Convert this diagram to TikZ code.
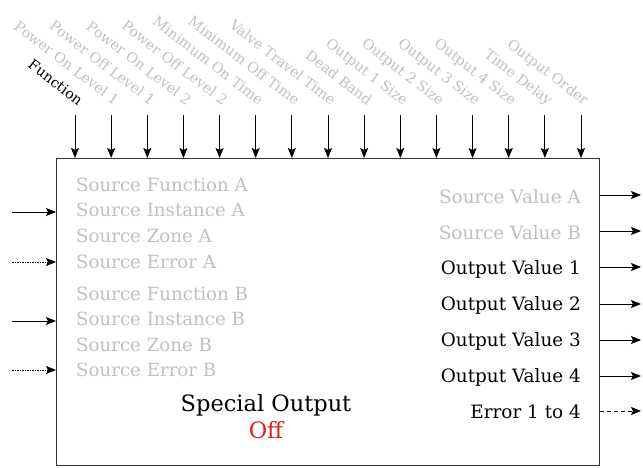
\documentclass[tikz,border=0pt]{standalone}
\usepackage{fontspec}
\setmainfont{DejaVu Serif}
\usetikzlibrary{arrows.meta}
\definecolor{lg}{RGB}{192,192,192}
\definecolor{offred}{RGB}{230,30,30}
\tikzset{
  arr/.style={-{Stealth[length=10pt,width=8pt,inset=2pt]}, line width=0.9pt, black},
  toplab/.style={font=\fontsize{14.2}{15}\selectfont, inner sep=0pt, text=lg},
  lefttxt/.style={font=\fontsize{18.2}{19}\selectfont, inner sep=0pt, anchor=west, text=lg},
  righttxt/.style={font=\fontsize{18.4}{19}\selectfont, inner sep=0pt, anchor=east},
  blockbox/.style={draw=black!80, line width=0.9pt, inner sep=0pt, anchor=north west}
}
\begin{document}
\begin{tikzpicture}[x=1pt,y=-1pt]
\useasboundingbox (0,0) rectangle (643,468);
\node[blockbox, minimum width=543pt, minimum height=307pt] (box) at (56,158) {};
% top inputs
\coordinate (t1) at (75,115);
\coordinate (b1) at (75,158);
\draw[arr] (t1) -- (b1);
\node[toplab, text=black, anchor=base east, rotate=-37.5] (l1) at (78,106) {Function};
\foreach \lab [count=\i from 2] in {Power On Level 1, Power Off Level 1, Power On Level 2, Power Off Level 2, Minimum On Time, Minimum Off Time, Valve Travel Time, Dead Band, Output 1 Size, Output 2 Size, Output 3 Size, Output 4 Size, Time Delay, Output Order}{
  \pgfmathsetmacro\xx{75+(\i-1)*36.143}
  \coordinate (t\i) at (\xx,115);
  \coordinate (b\i) at (\xx,158);
  \draw[arr] (t\i) -- (b\i);
  \node[toplab, anchor=base east, rotate=-37.5] (l\i) at (\xx+3,106) {\lab};
}
% left texts
\node[lefttxt] (sfa) at (76,185) {Source Function A};
\node[lefttxt] (sia) at (76,210) {Source Instance A};
\node[lefttxt] (sza) at (76,236) {Source Zone A};
\node[lefttxt] (sea) at (76,262) {Source Error A};
\node[lefttxt] (sfb) at (76,294) {Source Function B};
\node[lefttxt] (sib) at (76,319) {Source Instance B};
\node[lefttxt] (szb) at (76,345) {Source Zone B};
\node[lefttxt] (seb) at (76,370) {Source Error B};
% left arrows
\coordinate (ia) at (12,212);
\coordinate (iea) at (12,262);
\coordinate (ib) at (12,321);
\coordinate (ieb) at (12,370);
\draw[arr] (ia) -- (ia -| box.west);
\draw[arr, dash pattern=on 1.5pt off 1pt] (iea) -- (iea -| box.west);
\draw[arr] (ib) -- (ib -| box.west);
\draw[arr, dash pattern=on 1.5pt off 1pt] (ieb) -- (ieb -| box.west);
% right texts
\node[righttxt, text=lg] (sva) at (581,197) {Source Value A};
\node[righttxt, text=lg] (svb) at (581,233) {Source Value B};
\node[righttxt] (ov1) at (581,269) {Output Value 1};
\node[righttxt] (ov2) at (581,305) {Output Value 2};
\node[righttxt] (ov3) at (581,341) {Output Value 3};
\node[righttxt] (ov4) at (581,377) {Output Value 4};
\node[righttxt] (err) at (581,412) {Error 1 to 4};
% right arrows
\foreach \n/\yy in {a/195, b/231, c/267, d/304, e/340, f/376}{
  \coordinate (o\n) at (641,\yy);
  \draw[arr] (o\n -| box.east) -- (o\n);
}
\coordinate (oe) at (641,411);
\draw[arr, dash pattern=on 4pt off 3pt] (oe -| box.east) -- (oe);
% title
\node[font=\fontsize{22.5}{24}\selectfont, inner sep=0pt] (title) at (266,405) {Special Output};
\node[font=\fontsize{22.5}{24}\selectfont, inner sep=0pt, text=offred] (state) at (266,430) {Off};
\end{tikzpicture}
\end{document}
